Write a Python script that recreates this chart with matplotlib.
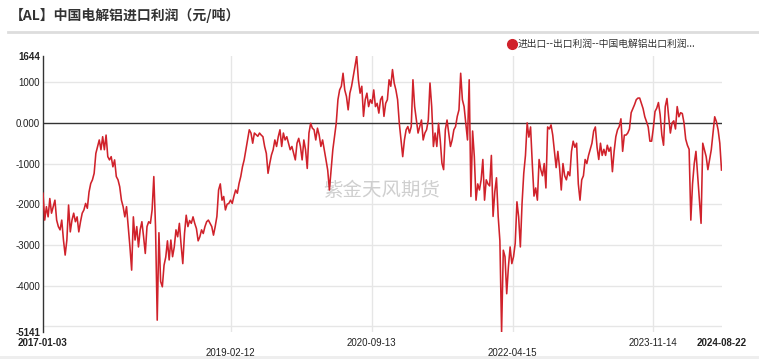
import pandas as pd
import matplotlib.pyplot as plt
from matplotlib.lines import Line2D
from matplotlib.patches import Rectangle

plt.rcParams['font.family'] = ['Noto Sans CJK SC', 'DejaVu Sans']

# weekly readings of the import profit (yuan/ton), 2017-01-03 .. 2024-08
profit = [
    -1730, -2390, -2060, -2310, -1860, -2220, -2060, -1900, -2390, -2550,
    -2630, -2390, -2880, -3250, -2880, -2020, -2680, -2390, -2220, -2430,
    -2310, -2680, -2430, -2220, -2140, -1980, -2100, -1700, -1490, -1400,
    -1240, -750, -580, -420, -660, -340, -660, -300, -830, -910,
    -830, -1080, -910, -1320, -1400, -1570, -1900, -2060, -2310, -2060,
    -2550, -3050, -3620, -2310, -2880, -2550, -3050, -2630, -2430, -2800,
    -3210, -2550, -2430, -2470, -2140, -1320, -2550, -4850, -2700, -3900,
    -4030, -3500, -3300, -2900, -3370, -2880, -3290, -3050, -2630, -2800,
    -2470, -3000, -3460, -2720, -2270, -2550, -2400, -2470, -2310, -2470,
    -2600, -2900, -2800, -2630, -2720, -2550, -2430, -2390, -2470, -2550,
    -2760, -2550, -2300, -1650, -1500, -1900, -1810, -2140, -2000, -1980,
    -1900, -1980, -1800, -1650, -1730, -1490, -1320, -1080, -910, -660,
    -420, -170, -250, -500, -250, -290, -330, -250, -300, -340,
    -580, -750, -1240, -1000, -790, -660, -420, -580, -340, -170,
    -580, -250, -420, -340, -500, -660, -580, -750, -910, -500,
    -380, -580, -910, -420, -660, -1120, -250, -10, -130, -170,
    -420, -130, -300, -580, -420, -660, -910, -1160, -1650, -1160,
    -660, -340, -10, 570, 810, 900, 1220, 810, 650, 320,
    730, 900, 1140, 1390, 1640, 1060, 730, 900, 160, 570,
    730, 400, 570, 480, 810, 400, 480, 240, 570, 650,
    160, 480, 570, 1060, 900, 1310, 980, 810, 570, -10,
    -420, -830, -420, -170, -90, -250, -90, 1060, 400, 70,
    -250, -90, 70, -420, -250, -170, 70, 980, 400, -580,
    -250, -580, -10, -420, -990, -1150, -170, 70, -250, -580,
    -420, -170, -90, 160, 320, 1220, 570, 400, -10, -420,
    1060, -1810, -200, -830, -1900, -1500, -1650, -1400, -900, -1900,
    -1400, -1500, -1550, -800, -2300, -1700, -1350, -2300, -2900, -5141,
    -3130, -3290, -4200, -3540, -3050, -3460, -3290, -2960, -1940, -2310,
    -3050, -1980, -1240, -800, 0, -350, -100, -1000, -1800, -1600,
    -1900, -900, -1150, -1300, -1000, -1600, -100, -150, -50, -300,
    -700, -1100, -700, -1100, -1650, -1000, -1300, -1400, -1200, -1300,
    -700, -450, -600, -500, -1500, -1900, -1400, -1300, -900, -1000,
    -800, -650, -500, -200, -100, -600, -900, -500, -800, -650,
    -800, -550, -700, -600, -1200, -700, -340, -170, -90, 100,
    -700, -300, -300, -250, -150, 250, 350, 450, 570, 610,
    610, 480, 350, 150, 30, -100, -450, -450, -130, 280,
    360, 500, 200, -300, -550, 400, 600, 150, -250, 0,
    50, -150, 400, 150, 250, 230, 0, -400, -550, -650,
    -2390, -1500, -1000, -700, -1300, -1900, -2470, -500, -660, -830,
    -1150, -900, -660, -250, 150, 30, -170, -500, -1160,
]
dates = pd.date_range('2017-01-03', periods=len(profit), freq='7D')

tick_dates = pd.to_datetime(['2017-01-03', '2019-02-12', '2020-09-13',
                             '2022-04-15', '2023-11-14', '2024-08-22'])
tick_labels = ['2017-01-03', '\n2019-02-12', '2020-09-13',
               '\n2022-04-15', '2023-11-14', '2024-08-22']
y_ticks = [-5141, -4000, -3000, -2000, -1000, 0, 1000, 1644]
y_labels = ['-5141', '-4000', '-3000', '-2000', '-1000', '0.000', '1000', '1644']
grid_levels = [-5000, -4000, -3000, -2000, -1000, 1000]

title = '【AL】中国电解铝进口利润（元/吨）'
series_name = '进出口--出口利润--中国电解铝出口利润...'
red = '#d0222b'

fig = plt.figure(figsize=(7.59, 3.59), dpi=100)
ax = fig.add_axes([43 / 759, 1 - 332 / 359, 679 / 759, 276 / 359])

for lv in grid_levels:
    ax.axhline(lv, color='#e6e6e6', lw=1, zorder=0)
for d in tick_dates[1:-1]:
    ax.axvline(d, color='#e6e6e6', lw=1, zorder=0)
ax.axhline(0, color='#333333', lw=1, zorder=1)

ax.plot(dates, profit, color=red, lw=1.15, zorder=3)

ax.set_xlim(tick_dates[0], tick_dates[-1])
ax.set_ylim(-5141, 1644)
ax.set_yticks(y_ticks)
ax.set_yticklabels(y_labels)
ax.set_xticks(tick_dates)
ax.set_xticklabels(tick_labels)
ax.tick_params(axis='both', length=0, labelsize=7, labelcolor='#222222')
ax.tick_params(axis='y', pad=2)
ax.tick_params(axis='x', pad=4.5)
for lab in ax.get_xticklabels() + ax.get_yticklabels():
    lab.set_family(['Liberation Sans', 'DejaVu Sans'])
for lab in ax.get_xticklabels():
    lab.set_linespacing(1.0)
for lab in [ax.get_xticklabels()[0], ax.get_xticklabels()[-1],
            ax.get_yticklabels()[0], ax.get_yticklabels()[-1]]:
    lab.set_fontweight('bold')

for s in ['top', 'right', 'bottom']:
    ax.spines[s].set_visible(False)
ax.spines['left'].set_color('#333333')
ax.spines['left'].set_linewidth(1)

ax.text(382 / 759, 1 - 191 / 359, '紫金天风期货', transform=fig.transFigure,
        fontsize=14, color='#cfcfcf', ha='center', va='center', zorder=1)

leg = ax.legend([Line2D([], [], color=red, marker='o', linestyle='', markersize=7)],
                [series_name], loc='center left',
                bbox_to_anchor=(506 / 759, 1 - 44 / 359), bbox_transform=fig.transFigure,
                frameon=False, fontsize=7, handletextpad=0.0, borderpad=0,
                handlelength=1.2, borderaxespad=0)
for t in leg.get_texts():
    t.set_color('#333333')

fig.text(10 / 759, 1 - 15 / 359, title, fontsize=10, fontweight='bold',
         color='#333333', va='center', ha='left')
fig.add_artist(Line2D([8 / 759, 1], [1 - 31.5 / 359] * 2, color='#dddddd', lw=2))
fig.add_artist(Rectangle((0, 0), 1, 3.5 / 359, transform=fig.transFigure,
                         color='#eeeeee', lw=0))

fig.savefig('out.png', dpi=100)
